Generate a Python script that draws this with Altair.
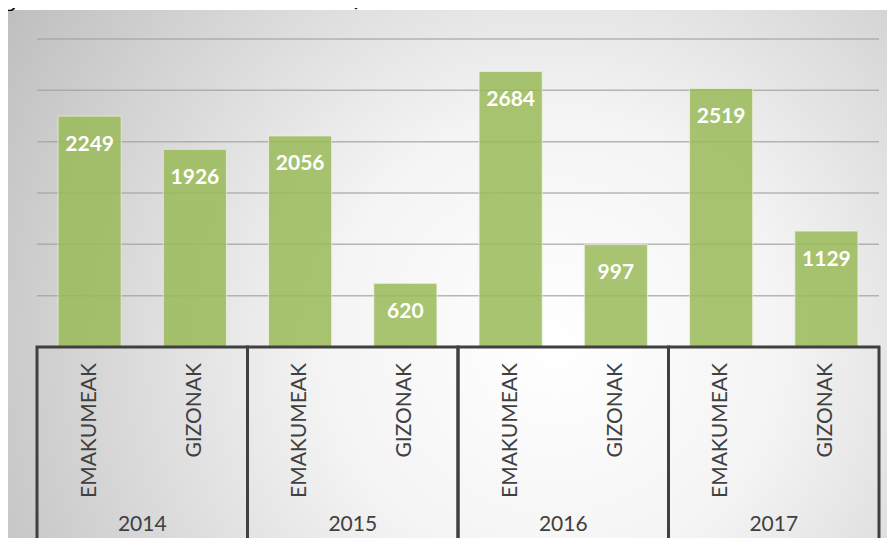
import altair as alt
import pandas as pd

# ---- data ----
years = ["2014", "2015", "2016", "2017"]
genders = ["EMAKUMEAK", "GIZONAK"]
values = [2249, 1926, 2056, 620, 2684, 997, 2519, 1129]
grid_values = [500, 1000, 1500, 2000, 2500, 3000]
caption = "gorakada bat antzeman da, urtetik urtera."

rows = []
i = 0
for yr in years:
    for g in genders:
        rows.append({"year": yr, "gender": g, "value": values[i]})
        i += 1
df = pd.DataFrame(rows)
year_df = pd.DataFrame({"year": years})
grid_df = pd.DataFrame({"value": grid_values})
one_df = pd.DataFrame({"a": [0]})

W, H = 842, 308
PAD = {"left": 29, "top": 31, "right": 8, "bottom": 191}

x_year = alt.X("year:N", sort=years,
               scale=alt.Scale(domain=years, paddingInner=0, paddingOuter=0),
               axis=None)
x_off = alt.XOffset("gender:N", sort=genders,
                    scale=alt.Scale(domain=genders, paddingInner=0.4, paddingOuter=0.2))
y_val = alt.Y("value:Q", scale=alt.Scale(domain=[0, 3000], nice=False, zero=True), axis=None)

gradient = {
    "gradient": "radial",
    "stops": [
        {"offset": 0, "color": "#ffffff"},
        {"offset": 0.35, "color": "#f4f4f4"},
        {"offset": 1, "color": "#bcbcbc"},
    ],
    "x1": 0.62, "y1": 0.58, "r1": 0,
    "x2": 0.62, "y2": 0.58, "r2": 0.75,
}

bg = alt.Chart(one_df).mark_rect(fill=gradient, strokeWidth=0).encode(
    x=alt.value(-29), x2=alt.value(W + PAD["right"]),
    y=alt.value(-29), y2=alt.value(H + PAD["bottom"]),
)

grid = alt.Chart(grid_df).mark_rule(color="#a0a0a0", strokeWidth=1.5, opacity=0.75).encode(
    y=y_val, x=alt.value(0), x2=alt.value(W),
)

bars = alt.Chart(df).mark_bar(color="#9BBB59", opacity=0.85, stroke="#eef4e4",
                              strokeWidth=1, strokeOpacity=0.8).encode(
    x=x_year, xOffset=x_off, y=y_val,
)

bar_labels = alt.Chart(df).mark_text(font="Lato", fontSize=21, fontWeight="bold",
                                     color="white", baseline="top", dy=17.5).encode(
    x=x_year, xOffset=x_off, y=y_val, text=alt.Text("value:Q", format="d"),
)

boxes = alt.Chart(year_df).mark_rect(fillOpacity=0, stroke="#404040", strokeWidth=3).encode(
    x=x_year, y=alt.value(H), y2=alt.value(H + 240),
)

gender_labels = alt.Chart(df).mark_text(font="Lato", fontSize=21, color="#404040",
                                        angle=270, align="right", baseline="middle").encode(
    x=x_year, xOffset=x_off, y=alt.value(324), text="gender:N",
)

year_labels = alt.Chart(year_df).mark_text(font="Lato", fontSize=21, color="#404040",
                                           baseline="alphabetic").encode(
    x=x_year, y=alt.value(492), text="year:N",
)

cap = alt.Chart(one_df).mark_text(font="DejaVu Serif", fontSize=26, color="#000000",
                                  align="left", baseline="alphabetic", text=caption).encode(
    x=alt.value(-35), y=alt.value(-33),
)

chart = alt.layer(bg, grid, bars, bar_labels, boxes, gender_labels, year_labels, cap).properties(
    width=W, height=H, padding=PAD, autosize=alt.AutoSizeParams(type="none"),
).configure_view(stroke=None)

chart.save("out.html", embed_options={"renderer": "svg", "actions": False})
